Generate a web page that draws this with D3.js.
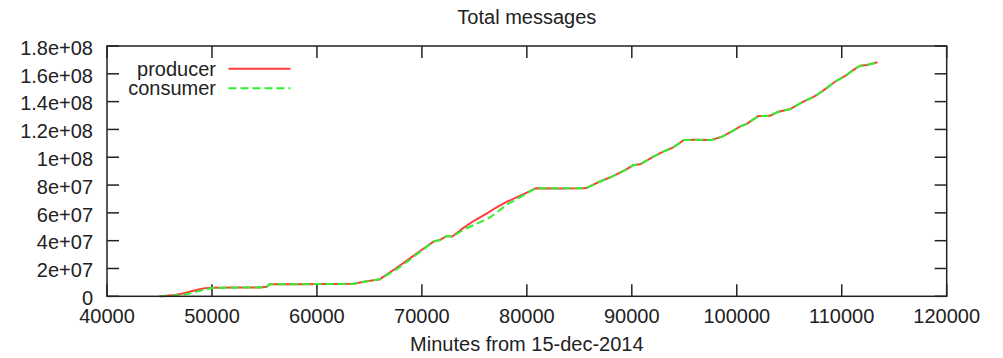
<!DOCTYPE html>
<html>
<head>
<meta charset="utf-8">
<script src="https://cdn.jsdelivr.net/npm/d3@7"></script>
<style>
  html, body { margin: 0; padding: 0; background: #fff; }
  svg text { font-family: "Liberation Sans", Arial, Helvetica, sans-serif; fill: #222; }
</style>
</head>
<body>
<svg id="chart" width="1003" height="358"></svg>
<script>
// ---- data ----
const title = "Total messages";
const xLabel = "Minutes from 15-dec-2014";
const seriesNames = ["producer", "consumer"];
const xTicks = [40000, 50000, 60000, 70000, 80000, 90000, 100000, 110000, 120000];
const yTicks = [0, 2e7, 4e7, 6e7, 8e7, 1e8, 1.2e8, 1.4e8, 1.6e8, 1.8e8];
const yTickLabels = ["0", "2e+07", "4e+07", "6e+07", "8e+07", "1e+08", "1.2e+08", "1.4e+08", "1.6e+08", "1.8e+08"];

const minutes = [45000, 45400, 46500, 47500, 48500, 49200, 50000, 52000, 54500, 55200, 55500, 58000, 61000, 63500, 64500, 66000,
  67500, 68900, 70000, 71100, 71700, 72400, 72900, 73900, 75000, 76200, 77000, 78100, 80000, 80850, 83000, 85400, 85700,
  86800, 88100, 89350, 90150, 90800, 92050, 93000, 93950, 94970, 96000, 97600, 98600, 99500, 100300, 100950, 102050,
  103150, 103950, 105050, 106200, 107450, 108400, 109350, 110450, 110950, 111750, 112400, 113400];

// values in millions of messages
const producer = [0, 0.2, 1.0, 2.5, 4.5, 5.7, 6.2, 6.3, 6.4, 6.8, 8.6, 8.7, 8.8, 9.0, 10.5, 12.3,
  20.0, 27.5, 33.5, 39.3, 40.5, 43.4, 43.0, 48.9, 54.5, 59.7, 63.5, 68.0, 74.5, 77.7, 77.6, 77.7, 78.0,
  82.0, 86.0, 90.8, 94.4, 94.9, 100.4, 104.0, 107.1, 112.4, 112.5, 112.4, 114.8, 118.5, 122.0, 124.0, 129.6,
  129.8, 132.7, 134.5, 139.5, 144.0, 148.8, 154.3, 159.1, 162.0, 165.8, 166.3, 168.3];
const consumer = [0, 0.1, 0.5, 1.5, 3.2, 4.6, 5.9, 6.2, 6.4, 6.7, 8.6, 8.7, 8.8, 9.0, 10.5, 12.3,
  19.0, 26.5, 33.0, 39.3, 40.5, 43.4, 43.0, 47.5, 51.5, 55.4, 59.5, 66.0, 74.0, 77.7, 77.6, 77.7, 78.0,
  82.0, 86.0, 90.8, 94.4, 94.9, 100.4, 104.0, 107.1, 112.4, 112.5, 112.4, 114.8, 118.5, 122.0, 124.0, 129.6,
  129.8, 132.7, 134.5, 139.5, 144.0, 148.8, 154.3, 159.1, 162.0, 165.8, 166.3, 168.3];

// ---- layout ----
const svg = d3.select("#chart");
const plotLeft = 107, plotRight = 946.7, plotTop = 46, plotBottom = 296.3;
const x = d3.scaleLinear().domain([40000, 120000]).range([plotLeft, plotRight]);
const y = d3.scaleLinear().domain([0, 1.8e8]).range([plotBottom, plotTop]);
const tickLen = 12;
const axisColor = "#222";

// ticks (inward, mirrored)
const tickG = svg.append("g").attr("stroke", axisColor).attr("stroke-width", 1.5);
xTicks.forEach(t => {
  tickG.append("line").attr("x1", x(t)).attr("x2", x(t)).attr("y1", plotBottom).attr("y2", plotBottom - tickLen);
  tickG.append("line").attr("x1", x(t)).attr("x2", x(t)).attr("y1", plotTop).attr("y2", plotTop + tickLen);
});
yTicks.forEach(t => {
  tickG.append("line").attr("x1", plotLeft).attr("x2", plotLeft + tickLen).attr("y1", y(t)).attr("y2", y(t));
  tickG.append("line").attr("x1", plotRight).attr("x2", plotRight - tickLen).attr("y1", y(t)).attr("y2", y(t));
});

// tick labels
svg.append("g").selectAll("text").data(xTicks).join("text")
  .attr("x", d => x(d)).attr("y", 323)
  .attr("text-anchor", "middle").attr("font-size", 20)
  .text(d => String(d));
svg.append("g").selectAll("text").data(yTicks).join("text")
  .attr("x", 93).attr("y", d => y(d) + 8.8)
  .attr("text-anchor", "end").attr("font-size", 20)
  .text((d, i) => yTickLabels[i]);

// title & axis label
svg.append("text").attr("x", (plotLeft + plotRight) / 2).attr("y", 24)
  .attr("text-anchor", "middle").attr("font-size", 20).text(title);
svg.append("text").attr("x", (plotLeft + plotRight) / 2).attr("y", 351)
  .attr("text-anchor", "middle").attr("font-size", 20).text(xLabel);

// lines
const line = d3.line().x((d, i) => x(minutes[i])).y(d => y(d * 1e6));
const plot = svg.append("g");
plot.append("path").datum(producer).attr("d", line)
  .attr("fill", "none").attr("stroke", "#ff3b3b").attr("stroke-width", 2);
plot.append("path").datum(consumer).attr("d", line)
  .attr("fill", "none").attr("stroke", "#2ef22e").attr("stroke-width", 2)
  .attr("stroke-dasharray", "8,4");

// legend
const legend = svg.append("g");
const legendStyles = [
  { color: "#ff3b3b", dash: null },
  { color: "#2ef22e", dash: "8,4" }
];
seriesNames.forEach((name, i) => {
  const ly = 68.7 + i * 19.6;
  legend.append("text").attr("x", 216).attr("y", ly + 7)
    .attr("text-anchor", "end").attr("font-size", 20).text(name);
  const l = legend.append("line").attr("x1", 228.5).attr("x2", 290.5).attr("y1", ly).attr("y2", ly)
    .attr("stroke", legendStyles[i].color).attr("stroke-width", 2);
  if (legendStyles[i].dash) l.attr("stroke-dasharray", legendStyles[i].dash);
});

// border
svg.append("rect").attr("x", plotLeft).attr("y", plotTop).attr("width", plotRight - plotLeft).attr("height", plotBottom - plotTop)
  .attr("fill", "none").attr("stroke", axisColor).attr("stroke-width", 1.5);
</script>
</body>
</html>
